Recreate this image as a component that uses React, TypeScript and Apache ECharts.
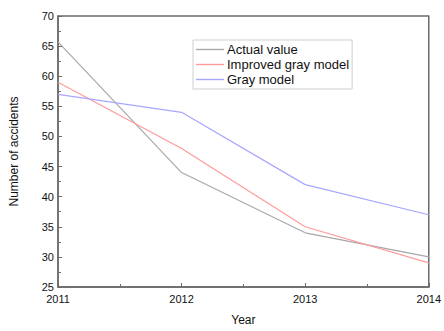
import React, { useEffect, useRef } from "react";
import * as echarts from "echarts";

const years = [2011, 2012, 2013, 2014];
const actualValue = [65.7, 44, 34, 30];
const improvedGray = [59, 48, 35, 29];
const grayModel = [57, 54, 42, 37];
const seriesNames = ["Actual value", "Improved gray model", "Gray model"];
const seriesColors = ["#a8a8a8", "#ff9a9a", "#a6a6ff"];

const pairs = (ys: number[]) => years.map((y, i) => [y, ys[i]]);

export default function App() {
  const ref = useRef<HTMLDivElement>(null);
  useEffect(() => {
    const chart = echarts.init(ref.current!, null, { renderer: "svg" });
    const font = "Liberation Sans, Arial, sans-serif";
    const values = [actualValue, improvedGray, grayModel];
    chart.setOption({
      animation: false,
      grid: {
        left: 56,
        right: 12,
        top: 16,
        bottom: 35,
        show: true,
        borderColor: "#6a6a6a",
        borderWidth: 1.5,
      },
      legend: {
        orient: "vertical",
        left: 193,
        top: 40,
        padding: [3, 3, 3, 3],
        borderColor: "#cfcfcf",
        borderWidth: 1,
        itemGap: 2,
        icon: "rect",
        itemWidth: 28,
        itemHeight: 1.4,
        textStyle: { fontFamily: font, fontSize: 13, color: "#111", padding: [0, 0, 0, -2] },
        data: seriesNames.map((n, i) => ({ name: n, itemStyle: { color: seriesColors[i] } })),
      },
      xAxis: {
        type: "value",
        min: 2011,
        max: 2014,
        interval: 1,
        name: "Year",
        nameLocation: "middle",
        nameGap: 27,
        nameTextStyle: { fontFamily: font, fontSize: 12, color: "#111" },
        axisLine: { show: true, lineStyle: { color: "#6a6a6a", width: 1.5 } },
        axisTick: { show: true, inside: true, length: 4, lineStyle: { color: "#6a6a6a" } },
        minorTick: { show: true, splitNumber: 2, length: 3, lineStyle: { color: "#6a6a6a" } },
        splitLine: { show: false },
        axisLabel: { fontFamily: font, fontSize: 11, color: "#111", margin: 6, formatter: (v: number) => String(v) },
      },
      yAxis: {
        type: "value",
        min: 25,
        max: 70,
        interval: 5,
        name: "Number of accidents",
        nameLocation: "middle",
        nameGap: 38,
        nameTextStyle: { fontFamily: font, fontSize: 12, color: "#111" },
        axisLine: { show: true, lineStyle: { color: "#6a6a6a", width: 1.5 } },
        axisTick: { show: true, inside: true, length: 4, lineStyle: { color: "#6a6a6a" } },
        minorTick: { show: true, splitNumber: 2, length: 3, lineStyle: { color: "#6a6a6a" } },
        splitLine: { show: false },
        axisLabel: { fontFamily: font, fontSize: 11, color: "#111", margin: 4 },
      },
      series: seriesNames.map((n, i) => ({
        name: n,
        type: "line",
        data: pairs(values[i]),
        symbol: "none",
        lineStyle: { color: seriesColors[i], width: 1.2 },
        itemStyle: { color: seriesColors[i] },
      })),
    });
    return () => chart.dispose();
  }, []);
  return <div ref={ref} style={{ width: 444, height: 331, position: "absolute", left: 0, top: 0 }} />;
}
